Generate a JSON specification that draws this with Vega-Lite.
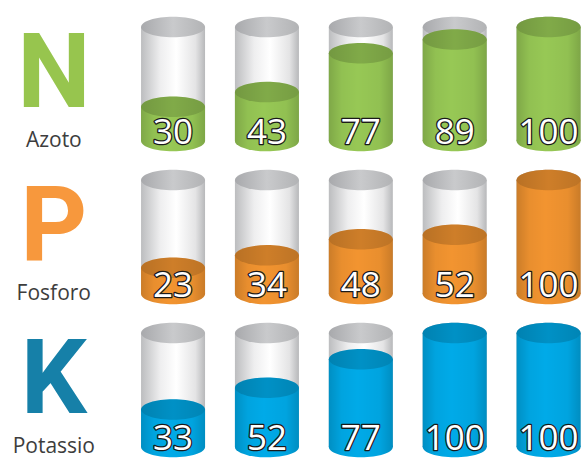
{
  "$schema": "https://vega.github.io/schema/vega-lite/v6.json",
  "padding": 0,
  "background": "white",
  "config": {"view": {"stroke": null}},
  "data": {
    "values": [
      {"row": "N", "col": 1, "value": 30},
      {"row": "N", "col": 2, "value": 43},
      {"row": "N", "col": 3, "value": 77},
      {"row": "N", "col": 4, "value": 89},
      {"row": "N", "col": 5, "value": 100},
      {"row": "P", "col": 1, "value": 23},
      {"row": "P", "col": 2, "value": 34},
      {"row": "P", "col": 3, "value": 48},
      {"row": "P", "col": 4, "value": 52},
      {"row": "P", "col": 5, "value": 100},
      {"row": "K", "col": 1, "value": 33},
      {"row": "K", "col": 2, "value": 52},
      {"row": "K", "col": 3, "value": 77},
      {"row": "K", "col": 4, "value": 100},
      {"row": "K", "col": 5, "value": 100},
      {"row": "N", "letter": "N", "name": "Azoto"},
      {"row": "P", "letter": "P", "name": "Fosforo"},
      {"row": "K", "letter": "K", "name": "Potassio"}
    ]
  },
  "facet": {"row": {"field": "row", "type": "nominal", "sort": ["N", "P", "K"], "header": null}},
  "spacing": {"row": 0},
  "spec": {
    "width": 587,
    "height": 153,
    "layer": [
      {
        "transform": [{"filter": "isValid(datum.col)"}],
        "mark": {"type": "bar", "size": 64, "fill": {"gradient": "linear", "x1": 0, "y1": 0, "x2": 1, "y2": 0, "stops": [{"offset": 0, "color": "#bcbdbf"}, {"offset": 0.3, "color": "#eeeeef"}, {"offset": 0.55, "color": "#ffffff"}, {"offset": 0.85, "color": "#e4e4e5"}, {"offset": 1, "color": "#b7b8ba"}]}},
        "encoding": {
          "x": {"field": "col", "type": "quantitative", "scale": {"domain": [-0.79, 5.356], "nice": false, "zero": false}, "axis": null},
          "y": {"datum": 100, "type": "quantitative", "scale": {"domain": [-10.5, 123.7], "nice": false, "zero": false}, "axis": null},
          "y2": {"datum": 0}
        }
      },
      {
        "transform": [{"filter": "isValid(datum.col)"}],
        "mark": {"type": "point", "filled": true, "opacity": 1, "size": 4096, "strokeWidth": 0, "shape": "M-1,0C-1,-0.177,-0.552,-0.32,0,-0.32C0.552,-0.32,1,-0.177,1,0C1,0.177,0.552,0.32,0,0.32C-0.552,0.32,-1,0.177,-1,0Z", "fill": {"gradient": "linear", "x1": 0, "y1": 0, "x2": 1, "y2": 0, "stops": [{"offset": 0, "color": "#a8a9ac"}, {"offset": 0.5, "color": "#c9cacc"}, {"offset": 1, "color": "#b2b3b5"}]}},
        "encoding": {
          "x": {"field": "col", "type": "quantitative"},
          "y": {"datum": 100, "type": "quantitative"}
        }
      },
      {
        "transform": [{"filter": "isValid(datum.col)"}],
        "mark": {"type": "bar", "size": 64},
        "encoding": {
          "x": {"field": "col", "type": "quantitative"},
          "y": {"field": "value", "type": "quantitative"},
          "y2": {"datum": 0},
          "color": {"field": "row", "type": "nominal", "scale": {"domain": ["N", "P", "K"], "range": ["#97c855", "#f29430", "#00aae8"]}, "legend": null}
        }
      },
      {
        "transform": [{"filter": "isValid(datum.col)"}],
        "mark": {"type": "bar", "size": 64, "fill": {"gradient": "linear", "x1": 0, "y1": 0, "x2": 1, "y2": 0, "stops": [{"offset": 0, "color": "rgba(0,0,0,0.16)"}, {"offset": 0.2, "color": "rgba(0,0,0,0.04)"}, {"offset": 0.45, "color": "rgba(0,0,0,0)"}, {"offset": 0.8, "color": "rgba(0,0,0,0.04)"}, {"offset": 1, "color": "rgba(0,0,0,0.17)"}]}},
        "encoding": {
          "x": {"field": "col", "type": "quantitative"},
          "y": {"field": "value", "type": "quantitative"},
          "y2": {"datum": 0}
        }
      },
      {
        "transform": [{"filter": "isValid(datum.col)"}],
        "mark": {"type": "point", "filled": true, "opacity": 1, "size": 4096, "strokeWidth": 0, "shape": "M-1,0C-1,-0.177,-0.552,-0.32,0,-0.32C0.552,-0.32,1,-0.177,1,0C1,0.177,0.552,0.32,0,0.32C-0.552,0.32,-1,0.177,-1,0Z"},
        "encoding": {
          "x": {"field": "col", "type": "quantitative"},
          "y": {"datum": 0, "type": "quantitative"},
          "color": {"field": "row", "type": "nominal", "legend": null}
        }
      },
      {
        "transform": [{"filter": "isValid(datum.col)"}],
        "mark": {"type": "point", "filled": true, "opacity": 1, "size": 4096, "strokeWidth": 0, "shape": "M-1,0C-1,-0.177,-0.552,-0.32,0,-0.32C0.552,-0.32,1,-0.177,1,0C1,0.177,0.552,0.32,0,0.32C-0.552,0.32,-1,0.177,-1,0Z", "fill": {"gradient": "linear", "x1": 0, "y1": 0, "x2": 1, "y2": 0, "stops": [{"offset": 0, "color": "rgba(0,0,0,0.16)"}, {"offset": 0.2, "color": "rgba(0,0,0,0.04)"}, {"offset": 0.45, "color": "rgba(0,0,0,0)"}, {"offset": 0.8, "color": "rgba(0,0,0,0.04)"}, {"offset": 1, "color": "rgba(0,0,0,0.17)"}]}},
        "encoding": {
          "x": {"field": "col", "type": "quantitative"},
          "y": {"datum": 0, "type": "quantitative"}
        }
      },
      {
        "transform": [{"filter": "isValid(datum.col)"}],
        "mark": {"type": "point", "filled": true, "opacity": 1, "size": 4096, "strokeWidth": 0, "shape": "M-1,0C-1,-0.177,-0.552,-0.32,0,-0.32C0.552,-0.32,1,-0.177,1,0C1,0.177,0.552,0.32,0,0.32C-0.552,0.32,-1,0.177,-1,0Z"},
        "encoding": {
          "x": {"field": "col", "type": "quantitative"},
          "y": {"field": "value", "type": "quantitative"},
          "color": {"field": "row", "type": "nominal", "legend": null}
        }
      },
      {
        "transform": [{"filter": "isValid(datum.col)"}],
        "mark": {"type": "point", "filled": true, "opacity": 1, "size": 4096, "strokeWidth": 0, "shape": "M-1,0C-1,-0.177,-0.552,-0.32,0,-0.32C0.552,-0.32,1,-0.177,1,0C1,0.177,0.552,0.32,0,0.32C-0.552,0.32,-1,0.177,-1,0Z", "fill": {"gradient": "linear", "x1": 0, "y1": 0, "x2": 1, "y2": 0, "stops": [{"offset": 0, "color": "rgba(0,0,0,0.24)"}, {"offset": 0.5, "color": "rgba(0,0,0,0.15)"}, {"offset": 1, "color": "rgba(0,0,0,0.22)"}]}},
        "encoding": {
          "x": {"field": "col", "type": "quantitative"},
          "y": {"field": "value", "type": "quantitative"}
        }
      },
      {
        "transform": [{"filter": "isValid(datum.col)"}],
        "mark": {"type": "text", "font": "Open Sans", "fontSize": 35, "align": "center", "baseline": "alphabetic", "dy": 3, "fill": "#1a1a1a", "stroke": "#1a1a1a", "strokeWidth": 2.6, "strokeJoin": "round"},
        "encoding": {
          "x": {"field": "col", "type": "quantitative"},
          "y": {"datum": 0, "type": "quantitative"},
          "text": {"field": "value", "type": "quantitative"}
        }
      },
      {
        "transform": [{"filter": "isValid(datum.col)"}],
        "mark": {"type": "text", "font": "Open Sans", "fontSize": 35, "align": "center", "baseline": "alphabetic", "dy": 3, "fill": "white"},
        "encoding": {
          "x": {"field": "col", "type": "quantitative"},
          "y": {"datum": 0, "type": "quantitative"},
          "text": {"field": "value", "type": "quantitative"}
        }
      },
      {
        "transform": [{"filter": "isValid(datum.letter)"}],
        "mark": {"type": "text", "font": "Roboto", "fontWeight": "bold", "fontSize": 104, "align": "center", "baseline": "alphabetic"},
        "encoding": {
          "x": {"datum": -0.27, "type": "quantitative"},
          "y": {"datum": 29.5, "type": "quantitative"},
          "text": {"field": "letter"},
          "fill": {"field": "row", "type": "nominal", "scale": {"domain": ["N", "P", "K"], "range": ["#97c54e", "#f7983d", "#1680a8"]}, "legend": null}
        }
      },
      {
        "transform": [{"filter": "isValid(datum.letter)"}],
        "mark": {"type": "text", "font": "Open Sans", "fontSize": 21, "align": "center", "baseline": "alphabetic", "fill": "#3d3d3d"},
        "encoding": {
          "x": {"datum": -0.27, "type": "quantitative"},
          "y": {"datum": -4.8, "type": "quantitative"},
          "text": {"field": "name"}
        }
      }
    ]
  }
}
